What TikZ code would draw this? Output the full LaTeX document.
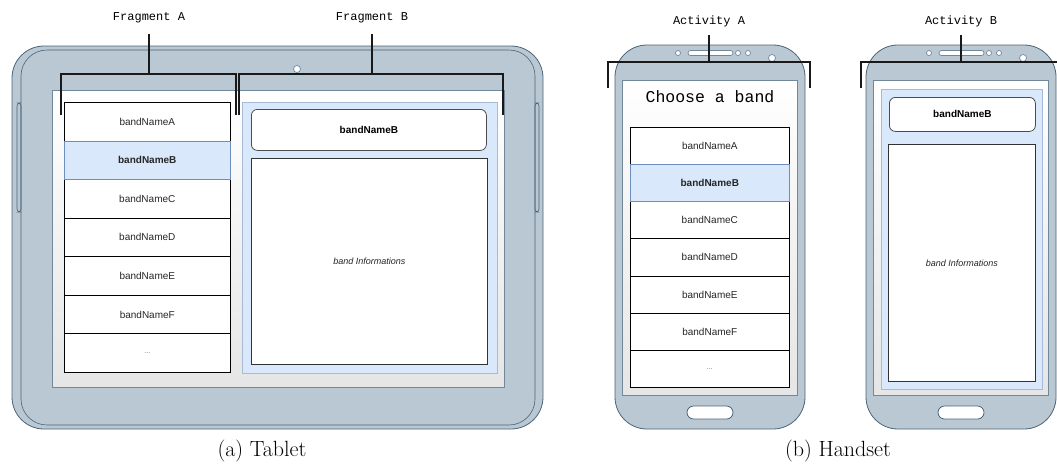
\documentclass[tikz,border=0pt]{standalone}
\usepackage{fontspec}
\newfontfamily\sansf{Liberation Sans}
\newfontfamily\monof{Liberation Mono}
\definecolor{bodyfill}{HTML}{BAC8D3}
\definecolor{bodyline}{HTML}{4A6478}
\definecolor{selfill}{HTML}{DAE8FC}
\definecolor{selline}{HTML}{6C8EBF}
\definecolor{scrline}{HTML}{71879A}
\tikzset{
  devbody/.style={draw=bodyline, fill=bodyfill, line width=0.8pt},
  screen/.style={draw=scrline, line width=0.7pt, top color=white, bottom color=black!10},
  row/.style={draw=black, fill=white, line width=0.6pt, inner sep=0pt, anchor=north west,
     font=\sansf\fontsize{10}{12}\selectfont, text=black!85},
  selrow/.style={row, draw=selline, fill=selfill, font=\sansf\bfseries\fontsize{10}{12}\selectfont},
  dots/.style={row, font=\sansf\fontsize{7}{8}\selectfont, text=black!60},
  panel/.style={draw=selline!60, fill=selfill, line width=0.8pt},
  titlebox/.style={draw=black!70, fill=white, rounded corners=6pt, line width=0.8pt, inner sep=0pt,
     anchor=north west, font=\sansf\bfseries\fontsize{10}{12}\selectfont},
  infobox/.style={draw=black!80, fill=white, line width=0.8pt, inner sep=0pt, anchor=north west,
     font=\sansf\itshape\fontsize{9}{11}\selectfont, text=black!85},
  mono/.style={font=\monof\fontsize{12}{14}\selectfont, inner sep=0pt},
  brace/.style={draw=black!90, line width=1.6pt},
  capt/.style={font=\fontsize{22}{26}\selectfont, inner sep=0pt},
  hole/.style={draw=scrline, fill=white, line width=0.7pt},
  homebtn/.style={draw=bodyline, fill=white, line width=0.8pt, rounded corners=6.5pt},
}
\begin{document}
\begin{tikzpicture}[x=1pt,y=-1pt]
\useasboundingbox (0,0) rectangle (1057,467);

% ================= TABLET =================
\draw[devbody, rounded corners=32pt] (12,46) rectangle (543,429);
\draw[bodyline, line width=0.6pt, rounded corners=26pt] (21,50) rectangle (535,425);
\draw[bodyline, line width=0.6pt, rounded corners=3pt] (17,103) rectangle (21,212);
\draw[bodyline, line width=0.6pt, rounded corners=3pt] (535,103) rectangle (539,212);
\draw[hole] (297,69) circle (3.5);
\draw[screen] (52,90) rectangle (504,387);

% Fragment A list
\foreach \t [count=\i from 0] in {bandNameA,bandNameC,bandNameD,bandNameE,bandNameF}{
  \pgfmathsetmacro{\yy}{102+38.57*(\i<1 ? 0 : \i+1)}
  \node[row, minimum width=166pt, minimum height=38.57pt] (ta\i) at (64,\yy) {\t};
}
\node[dots, minimum width=166pt, minimum height=38.57pt] (tadots) at (64,333.4) {...};
\node[selrow, minimum width=166pt, minimum height=38.57pt] (tasel) at (64,140.57) {bandNameB};

% Fragment B
\draw[panel] (242,102) rectangle (497,373);
\node[titlebox, minimum width=235pt, minimum height=41pt] (tbt) at (251,109) {bandNameB};
\node[infobox, minimum width=236pt, minimum height=206pt] (tbi) at (251,158) {band Informations};

% brackets
\node[mono] (fa) at (149,18) {Fragment A};
\node[mono] (fb) at (372,18) {Fragment B};
\coordinate (faS) at (149,34); \coordinate (faL) at (61,74); \coordinate (faR) at (236,74);
\coordinate (fbS) at (372,34); \coordinate (fbL) at (239,74); \coordinate (fbR) at (503,74);
\draw[brace] (faS) -- (faS |- faL);
\draw[brace] ([yshift=-41pt]faL) -- (faL) -- (faR) -- ([yshift=-41pt]faR);
\draw[brace] (fbS) -- (fbS |- fbL);
\draw[brace] ([yshift=-41pt]fbL) -- (fbL) -- (fbR) -- ([yshift=-41pt]fbR);

\node[capt] (capa) at (262,451) {(a) Tablet};

% ================= HANDSET A =================
\draw[devbody, rounded corners=32pt] (615,45) rectangle (805,429);
\draw[hole, rounded corners=2.5pt] (688,50.5) rectangle (733,55.5);
\draw[hole] (678,53) circle (2.5);
\draw[hole] (738,53) circle (2.5);
\draw[hole] (748,53) circle (2.5);
\draw[hole] (772,58) circle (3.5);
\draw[homebtn] (687,406) rectangle (733,419);
\draw[screen] (622,80) rectangle (797,395);
\node[font=\monof\fontsize{16.5}{18}\selectfont, inner sep=0pt] (choose) at (710,97) {Choose a band};

\foreach \t [count=\i from 0] in {bandNameA,bandNameC,bandNameD,bandNameE,bandNameF}{
  \pgfmathsetmacro{\yy}{127+37.14*(\i<1 ? 0 : \i+1)}
  \node[row, minimum width=159pt, minimum height=37.14pt] (ha\i) at (630,\yy) {\t};
}
\node[dots, minimum width=159pt, minimum height=37.14pt] (hadots) at (630,349.8) {...};
\node[selrow, minimum width=159pt, minimum height=37.14pt] (hasel) at (630,164.14) {bandNameB};

\node[mono] (aa) at (709,21) {Activity A};
\coordinate (aaS) at (709,35); \coordinate (aaL) at (608,62); \coordinate (aaR) at (810,62);
\draw[brace] (aaS) -- (aaS |- aaL);
\draw[brace] ([yshift=-26pt]aaL) -- (aaL) -- (aaR) -- ([yshift=-26pt]aaR);

% ================= HANDSET B =================
\draw[devbody, rounded corners=32pt] (866,45) rectangle (1056,429);
\draw[hole, rounded corners=2.5pt] (939,50.5) rectangle (984,55.5);
\draw[hole] (929,53) circle (2.5);
\draw[hole] (989,53) circle (2.5);
\draw[hole] (999,53) circle (2.5);
\draw[hole] (1023,58) circle (3.5);
\draw[homebtn] (938,406) rectangle (984,419);
\draw[screen] (873,80) rectangle (1048,395);
\draw[panel] (881,89) rectangle (1042,389);
\node[titlebox, minimum width=146pt, minimum height=34pt] (hbt) at (889,97) {bandNameB};
\node[infobox, minimum width=147pt, minimum height=237pt] (hbi) at (888,144) {band Informations};

\node[mono] (ab) at (961,21) {Activity B};
\coordinate (abS) at (961,35); \coordinate (abL) at (861,62); \coordinate (abR) at (1057,62);
\draw[brace] (abS) -- (abS |- abL);
\draw[brace] ([yshift=-26pt]abL) -- (abL) -- (abR);

\node[capt] (capb) at (838,451) {(b) Handset};
\end{tikzpicture}
\end{document}
